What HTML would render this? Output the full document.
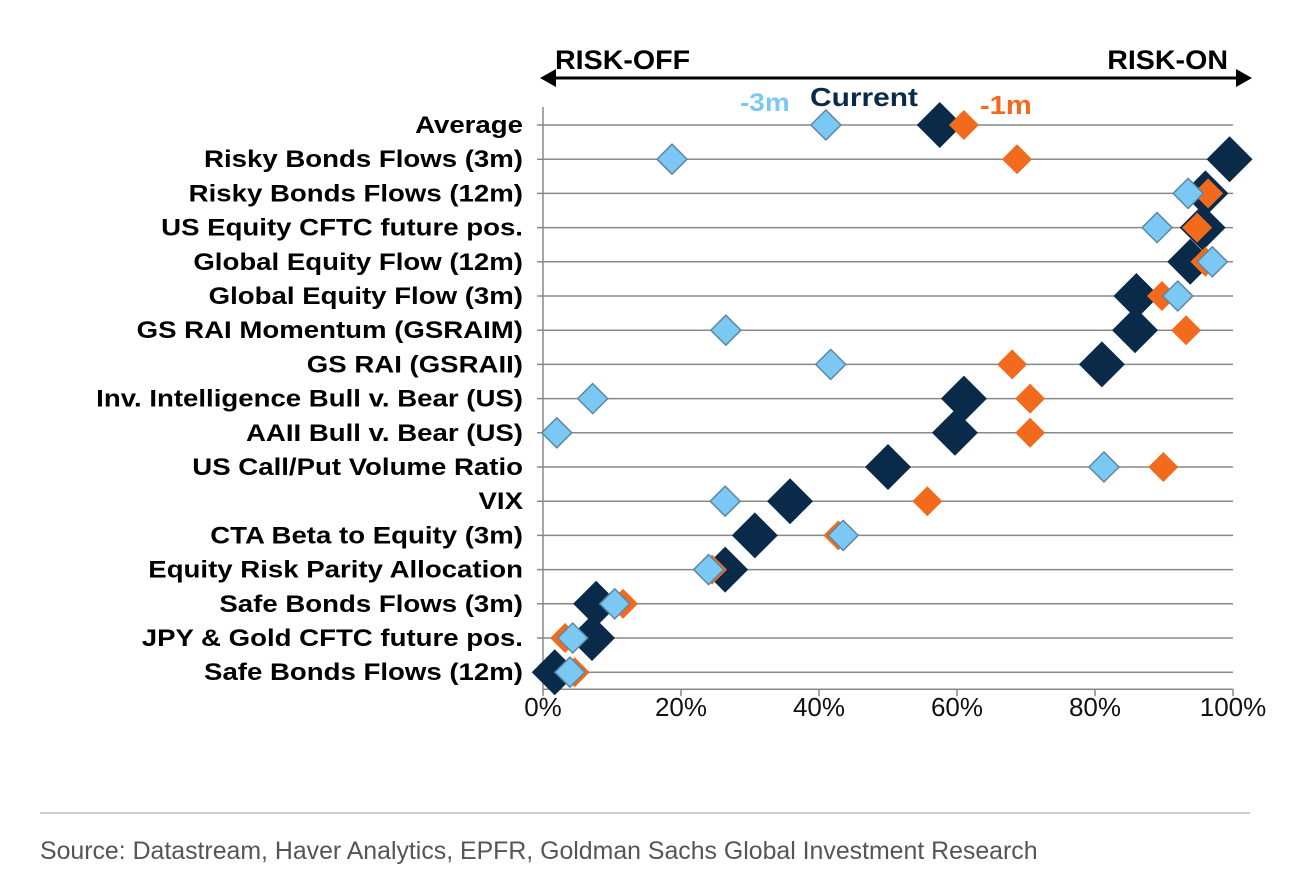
<!DOCTYPE html>
<html><head><meta charset="utf-8"><style>
body{margin:0;background:#fff;width:1290px;height:881px;overflow:hidden;font-family:"Liberation Sans",sans-serif}
</style></head><body>
<svg id="c" width="1290" height="881" xmlns="http://www.w3.org/2000/svg">
<g id="grid"></g>
<g id="labels" transform="translate(523,0) scale(1.15,1) translate(-523,0)"></g>
<g id="ticks"></g>
<g id="marks"></g>
<g>
<line x1="552" y1="78" x2="1240" y2="78" stroke="#000" stroke-width="3"/>
<polygon points="540,78 556,69 556,87" fill="#000"/>
<polygon points="1252,78 1236,69 1236,87" fill="#000"/>
</g>
<text x="555" y="69" font-size="27" font-weight="bold" transform="translate(555,0) scale(1.06,1) translate(-555,0)">RISK-OFF</text>
<text x="1228" y="69" font-size="27" font-weight="bold" text-anchor="end" transform="translate(1228,0) scale(1.06,1) translate(-1228,0)">RISK-ON</text>
<g transform="translate(740,0) scale(1.12,1) translate(-740,0)"><text x="740" y="111" font-size="25" font-weight="bold" fill="#7cc8f5">-3m</text></g>
<g transform="translate(810,0) scale(1.15,1) translate(-810,0)"><text x="810" y="106" font-size="26" font-weight="bold" fill="#0a2a4a">Current</text></g>
<g transform="translate(980,0) scale(1.12,1) translate(-980,0)"><text x="980" y="114" font-size="26" font-weight="bold" fill="#f26b1d">-1m</text></g>
<line x1="40" y1="813" x2="1250" y2="813" stroke="#999" stroke-width="1"/>
<text x="40" y="859" font-size="25" fill="#555" transform="translate(40,0) scale(0.995,1) translate(-40,0)">Source: Datastream, Haver Analytics, EPFR, Goldman Sachs Global Investment Research</text>
</svg>
<script>
const categories=["Average","Risky Bonds Flows (3m)","Risky Bonds Flows (12m)","US Equity CFTC future pos.","Global Equity Flow (12m)","Global Equity Flow (3m)","GS RAI Momentum (GSRAIM)","GS RAI (GSRAII)","Inv. Intelligence Bull v. Bear (US)","AAII Bull v. Bear (US)","US Call/Put Volume Ratio","VIX","CTA Beta to Equity (3m)","Equity Risk Parity Allocation","Safe Bonds Flows (3m)","JPY & Gold CFTC future pos.","Safe Bonds Flows (12m)"];
const current=[57.5,99.5,96,95.6,93.8,86,85.8,81,61,59.7,50,35.8,30.7,26.4,7.7,7.1,1.7];
const minus1m=[61,68.7,96.4,94.8,96,89.7,93.2,68,70.6,70.6,89.9,55.7,42.8,24.5,11.6,3.2,4.6];
const minus3m=[41,18.7,93.5,89,97,92,26.5,41.7,7.2,2,81.3,26.4,43.5,24,10.4,4.3,3.9];
const xTicks=[0,20,40,60,80,100];
const NS="http://www.w3.org/2000/svg";
const x=v=>543+v*6.9, y=i=>125+i*34.2;
function mk(t,a,p){const e=document.createElementNS(NS,t);for(const k in a)e.setAttribute(k,a[k]);p.appendChild(e);return e;}
const grid=document.getElementById('grid'),labels=document.getElementById('labels'),ticks=document.getElementById('ticks'),marks=document.getElementById('marks');
mk('line',{x1:x(0),y1:y(0)-18,x2:x(0),y2:y(16)+17,stroke:'#888','stroke-width':1.5},grid);
mk('line',{x1:x(0),y1:y(16)+17,x2:x(100),y2:y(16)+17,stroke:'#888','stroke-width':1.5},grid);
categories.forEach((c,i)=>{
 const l=mk('line',{x1:x(0)-6,y1:y(i),x2:x(100),y2:y(i),stroke:'#888','stroke-width':1.5},grid);
 
 
 const t=mk('text',{x:523,y:y(i)+8,'font-size':24,'font-weight':'bold','text-anchor':'end'},labels);
 t.textContent=c;
 
 
});
xTicks.forEach(v=>{
 mk('line',{x1:x(v),y1:y(16)+17,x2:x(v),y2:y(16)+24,stroke:'#888','stroke-width':1.5},grid);
 const t=mk('text',{x:x(v),y:y(16)+44,'font-size':26,'text-anchor':'middle',fill:'#111'},ticks);
 t.textContent=v+'%';
 
 
});
function dia(v,i,r,fill,stroke){
 const cx=x(v),cy=y(i);
 return mk('polygon',{points:`${cx},${cy-r} ${cx+r},${cy} ${cx},${cy+r} ${cx-r},${cy}`,fill:fill,stroke:stroke,'stroke-width':1.5},marks);
}
current.forEach((v,i)=>{const p=dia(v,i,23,'#0a2a4a','none');});
minus1m.forEach((v,i)=>{const p=dia(v,i,15,'#f26b1d','none');});
minus3m.forEach((v,i)=>{const p=dia(v,i,15,'#7cc8f5','#5b87a3');});
</script>
</body></html>
